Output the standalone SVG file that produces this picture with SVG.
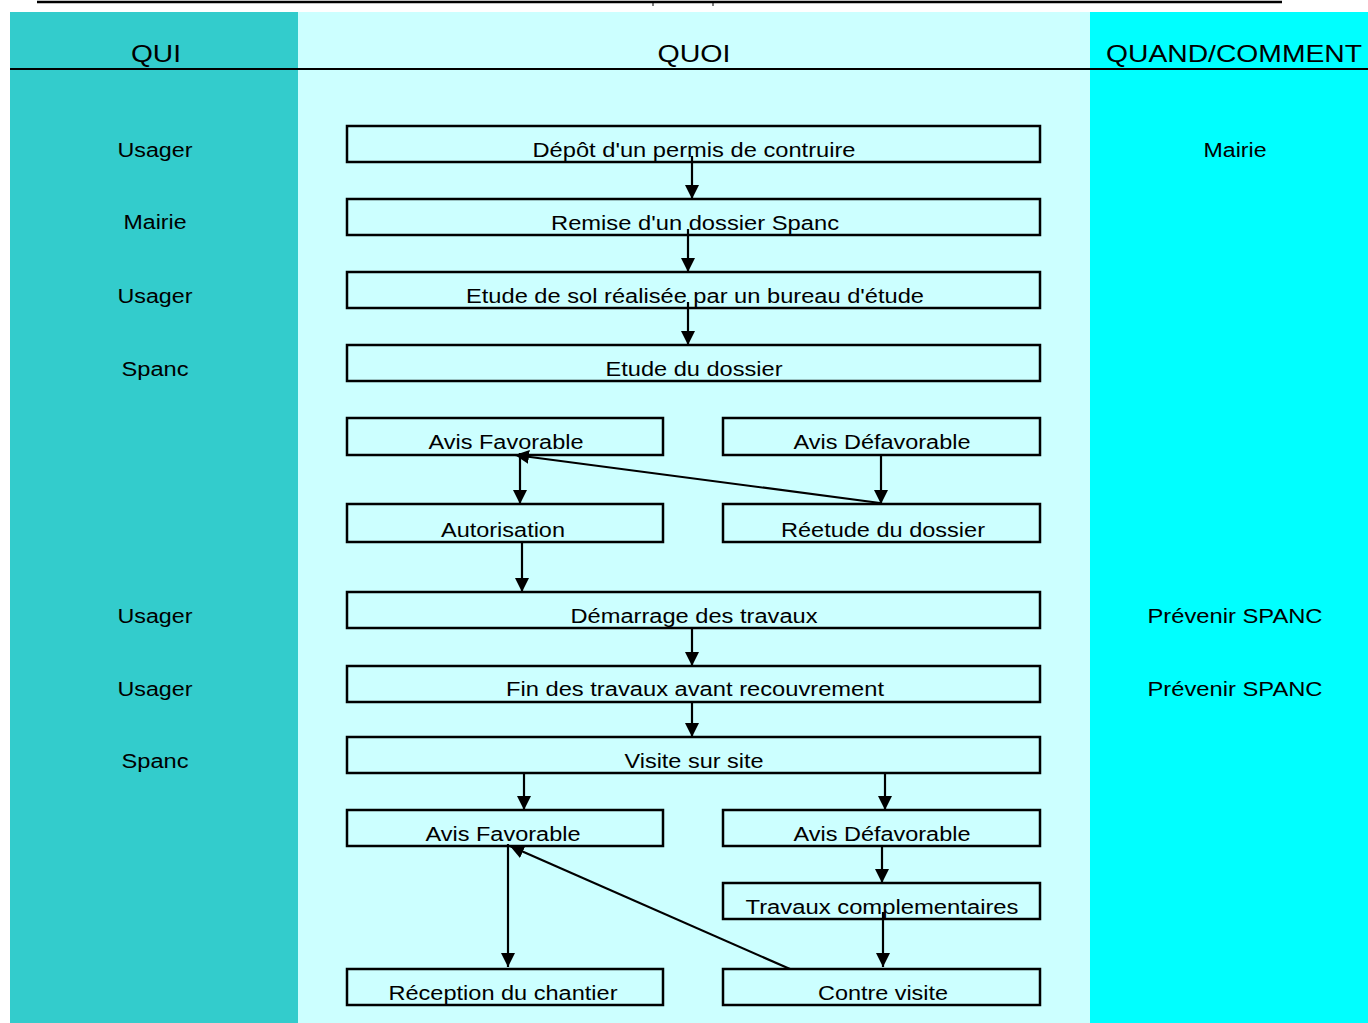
<svg xmlns="http://www.w3.org/2000/svg" width="1368" height="1023" viewBox="0 0 1368 1023">
<style>
.t{font-family:"Liberation Sans",Arial,sans-serif;font-size:20px;fill:#000;text-anchor:middle}
.h{font-family:"Liberation Sans",Arial,sans-serif;font-size:24px;fill:#000;text-anchor:middle}
.box{fill:#CCFFFF;stroke:#000;stroke-width:2.5}
.c{stroke:#000;stroke-width:2.2;fill:none}
</style>
<defs>
<marker id="ah" markerUnits="userSpaceOnUse" markerWidth="14" markerHeight="14" viewBox="0 0 12 12" refX="12" refY="6" orient="auto">
<path d="M0,0 L12,6 L0,12 Z" fill="#000"/>
</marker>
</defs>
<rect width="1368" height="1023" fill="#fff"/>
<g id="columns">
<rect x="10" y="12" width="288" height="1011" fill="#33CCCC"/>
<rect x="298" y="12" width="792" height="1011" fill="#CCFFFF"/>
<rect x="1090" y="12" width="278" height="1011" fill="#00FFFF"/>
<line x1="37" y1="2" x2="1282" y2="2" stroke="#000" stroke-width="2.5"/>
<line x1="653" y1="2" x2="653" y2="6" stroke="#000" stroke-width="1"/>
<line x1="713" y1="2" x2="713" y2="6" stroke="#000" stroke-width="1"/>
<line x1="10" y1="69" x2="1368" y2="69" stroke="#000" stroke-width="2.2"/>
</g>
<g id="headers">
<text class="h" x="156" y="62" textLength="50" lengthAdjust="spacingAndGlyphs">QUI</text>
<text class="h" x="694" y="62" textLength="73" lengthAdjust="spacingAndGlyphs">QUOI</text>
<text class="h" x="1234" y="62" textLength="256" lengthAdjust="spacingAndGlyphs">QUAND/COMMENT</text>
</g>
<g id="qui">
<text class="t" x="155" y="157" textLength="75" lengthAdjust="spacingAndGlyphs">Usager</text>
<text class="t" x="155" y="229" textLength="63" lengthAdjust="spacingAndGlyphs">Mairie</text>
<text class="t" x="155" y="303" textLength="75" lengthAdjust="spacingAndGlyphs">Usager</text>
<text class="t" x="155" y="376" textLength="67" lengthAdjust="spacingAndGlyphs">Spanc</text>
<text class="t" x="155" y="623" textLength="75" lengthAdjust="spacingAndGlyphs">Usager</text>
<text class="t" x="155" y="696" textLength="75" lengthAdjust="spacingAndGlyphs">Usager</text>
<text class="t" x="155" y="768" textLength="67" lengthAdjust="spacingAndGlyphs">Spanc</text>
</g>
<g id="quand">
<text class="t" x="1235" y="157" textLength="63" lengthAdjust="spacingAndGlyphs">Mairie</text>
<text class="t" x="1235" y="623" textLength="175" lengthAdjust="spacingAndGlyphs">Prévenir SPANC</text>
<text class="t" x="1235" y="696" textLength="175" lengthAdjust="spacingAndGlyphs">Prévenir SPANC</text>
</g>
<g id="n1"><rect class="box" x="347" y="126" width="693" height="36"/><text class="t" x="694" y="157" textLength="323" lengthAdjust="spacingAndGlyphs">Dépôt d'un permis de contruire</text></g>
<g id="n2"><rect class="box" x="347" y="199" width="693" height="36"/><text class="t" x="695" y="230" textLength="288" lengthAdjust="spacingAndGlyphs">Remise d'un dossier Spanc</text></g>
<g id="n3"><rect class="box" x="347" y="272" width="693" height="36"/><text class="t" x="695" y="303" textLength="458" lengthAdjust="spacingAndGlyphs">Etude de sol réalisée par un bureau d'étude</text></g>
<g id="n4"><rect class="box" x="347" y="345" width="693" height="36"/><text class="t" x="694" y="376" textLength="177" lengthAdjust="spacingAndGlyphs">Etude du dossier</text></g>
<g id="n5"><rect class="box" x="347" y="418" width="316" height="37"/><text class="t" x="506" y="449" textLength="155" lengthAdjust="spacingAndGlyphs">Avis Favorable</text></g>
<g id="n6"><rect class="box" x="723" y="418" width="317" height="37"/><text class="t" x="882" y="449" textLength="177" lengthAdjust="spacingAndGlyphs">Avis Défavorable</text></g>
<g id="n7"><rect class="box" x="347" y="504" width="316" height="38"/><text class="t" x="503" y="537" textLength="124" lengthAdjust="spacingAndGlyphs">Autorisation</text></g>
<g id="n8"><rect class="box" x="723" y="504" width="317" height="38"/><text class="t" x="883" y="537" textLength="204" lengthAdjust="spacingAndGlyphs">Réetude du dossier</text></g>
<g id="n9"><rect class="box" x="347" y="592" width="693" height="36"/><text class="t" x="694" y="623" textLength="247" lengthAdjust="spacingAndGlyphs">Démarrage des travaux</text></g>
<g id="n10"><rect class="box" x="347" y="666" width="693" height="36"/><text class="t" x="695" y="696" textLength="378" lengthAdjust="spacingAndGlyphs">Fin des travaux avant recouvrement</text></g>
<g id="n11"><rect class="box" x="347" y="737" width="693" height="36"/><text class="t" x="694" y="768" textLength="139" lengthAdjust="spacingAndGlyphs">Visite sur site</text></g>
<g id="n12"><rect class="box" x="347" y="810" width="316" height="36"/><text class="t" x="503" y="841" textLength="155" lengthAdjust="spacingAndGlyphs">Avis Favorable</text></g>
<g id="n13"><rect class="box" x="723" y="810" width="317" height="36"/><text class="t" x="882" y="841" textLength="177" lengthAdjust="spacingAndGlyphs">Avis Défavorable</text></g>
<g id="n14"><rect class="box" x="723" y="883" width="317" height="36"/><text class="t" x="882" y="914" textLength="273" lengthAdjust="spacingAndGlyphs">Travaux complementaires</text></g>
<g id="n15"><rect class="box" x="347" y="969" width="316" height="36"/><text class="t" x="503" y="1000" textLength="229" lengthAdjust="spacingAndGlyphs">Réception du chantier</text></g>
<g id="n16"><rect class="box" x="723" y="969" width="317" height="36"/><text class="t" x="883" y="1000" textLength="130" lengthAdjust="spacingAndGlyphs">Contre visite</text></g>
<g id="connectors">
<line class="c" x1="692" y1="156" x2="692" y2="199" marker-end="url(#ah)"/>
<line class="c" x1="688" y1="229" x2="688" y2="272" marker-end="url(#ah)"/>
<line class="c" x1="688" y1="302" x2="688" y2="345" marker-end="url(#ah)"/>
<line class="c" x1="520" y1="453" x2="520" y2="504" marker-end="url(#ah)"/>
<line class="c" x1="881" y1="455" x2="881" y2="504" marker-end="url(#ah)"/>
<line class="c" x1="880" y1="503" x2="515" y2="455" marker-end="url(#ah)"/>
<line class="c" x1="522" y1="543" x2="522" y2="592" marker-end="url(#ah)"/>
<line class="c" x1="692" y1="628" x2="692" y2="666" marker-end="url(#ah)"/>
<line class="c" x1="692" y1="702" x2="692" y2="737" marker-end="url(#ah)"/>
<line class="c" x1="524" y1="773" x2="524" y2="810" marker-end="url(#ah)"/>
<line class="c" x1="885" y1="773" x2="885" y2="810" marker-end="url(#ah)"/>
<line class="c" x1="508" y1="844" x2="508" y2="967" marker-end="url(#ah)"/>
<line class="c" x1="790" y1="969" x2="510" y2="846" marker-end="url(#ah)"/>
<line class="c" x1="882" y1="846" x2="882" y2="883" marker-end="url(#ah)"/>
<line class="c" x1="883" y1="912" x2="883" y2="967" marker-end="url(#ah)"/>
</g>
</svg>
